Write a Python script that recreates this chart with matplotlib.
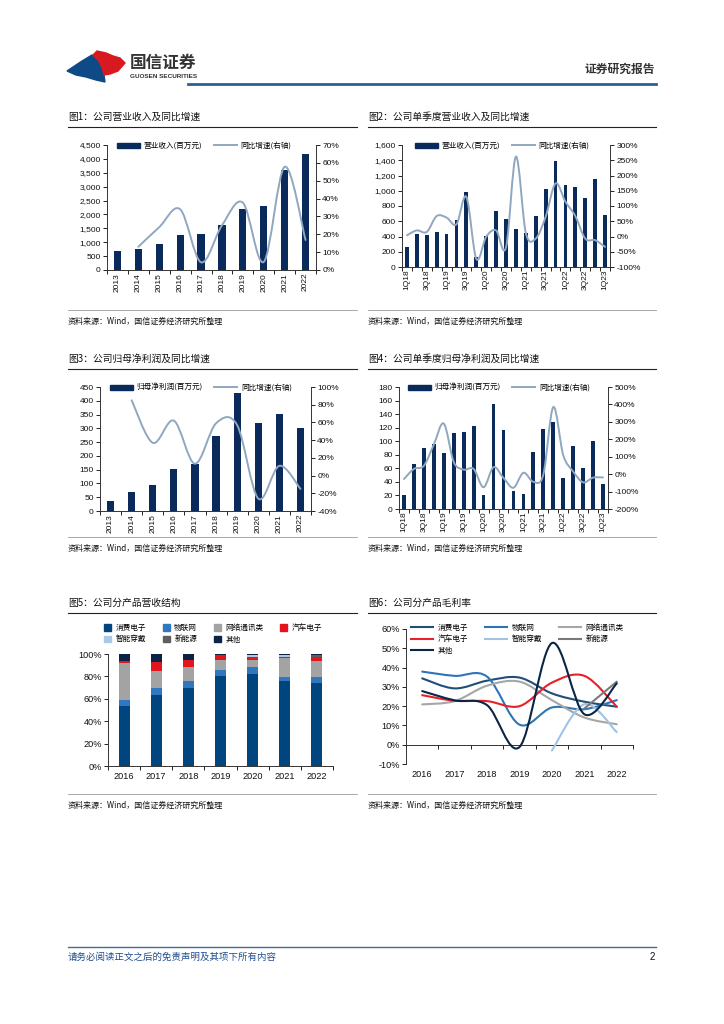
import numpy as np
import matplotlib
matplotlib.use('Agg')
import matplotlib.pyplot as plt
from matplotlib.path import Path
from matplotlib.patches import PathPatch, Rectangle, Polygon
from matplotlib.lines import Line2D
from matplotlib.ticker import FuncFormatter

plt.rcParams['font.family'] = ['Liberation Sans', 'Noto Sans CJK SC', 'DejaVu Sans']
plt.rcParams['axes.unicode_minus'] = False

# ---------------- data ----------------
years = ['2013', '2014', '2015', '2016', '2017', '2018', '2019', '2020', '2021', '2022']
revenue = [684, 756, 936, 1248, 1296, 1620, 2196, 2304, 3600, 4176]
revenue_yoy = [None, 13, 24, 34, 4.3, 25, 37.7, 4.5, 57.8, 16.8]

quarters = ['1Q18', '2Q18', '3Q18', '4Q18', '1Q19', '2Q19', '3Q19', '4Q19', '1Q20', '2Q20', '3Q20',
            '4Q20', '1Q21', '2Q21', '3Q21', '4Q21', '1Q22', '2Q22', '3Q22', '4Q22', '1Q23']
q_revenue = [263, 430, 416, 460, 438, 614, 986, 135, 403, 732, 627,
             504, 445, 666, 1017, 1390, 1074, 1052, 899, 1148, 679]
q_revenue_yoy = [4, 20, 15, 67, 62, 40, 130, -73, -1, 20, -36,
                 262, 12, -7, 64, 174, 114, 67, -7, -12, -34]

profit = [37, 68, 95, 151, 169, 272, 428, 319, 351, 301]
profit_yoy = [None, 85, 37, 62, 13.4, 59, 57, -26, 11, -15]

q_profit = [20.7, 66, 90, 96, 82, 112, 113.6, 123, 20.7, 155, 116,
            27, 22, 84, 117.6, 128, 45.7, 93, 60.5, 100, 37]
q_profit_yoy = [-28, 30, 48, 170, 290, 70, 26, 30, -75, 40, -22,
                -78, 8, -44, -3, 385, 110, 15, -47, -20, -19]

seg_years = ['2016', '2017', '2018', '2019', '2020', '2021', '2022']
segments = ['消费电子', '物联网', '网络通讯类', '汽车电子', '智能穿戴', '新能源', '其他']
share_consumer = [54, 63, 70, 80, 82, 75.5, 74.5]
share_iot = [5, 7, 5.5, 5.5, 6, 4, 5]
share_network = [33, 15, 12.5, 9.5, 7, 16.5, 14]
share_auto = [2, 8, 7, 4, 2, 1.5, 4]
share_wear = [0, 0, 0, 0, 2, 1.5, 0]
share_energy = [0, 0, 0, 0, 0, 0, 1.5]
share_other = [6, 7, 5, 1, 1, 1, 1]

gm_consumer = [34.4, 29.2, 33.2, 34.8, 26.6, 22.3, 19.7]
gm_iot = [37.9, 35.7, 35.3, 10.4, 19.3, 18.4, 23.1]
gm_network = [20.9, 22.6, 30.6, 32.7, 23.1, 14.1, 10.6]
gm_auto = [25.7, 22.8, 22.6, 20.0, 32.2, 35.7, 19.7]
gm_wear = [None, None, None, None, -3, 21, 6.5]
gm_energy = [None, None, None, None, None, 18.8, 32.7]
gm_other = [27.8, 23, 20.5, -1.2, 52.7, 15.8, 31.8]

# ---------------- style ----------------
W, H = 724, 1024
NAVY = '#0B2A5C'
LINE = '#8FA7BF'
seg_colors = ['#00457E', '#2F77BE', '#A3A3A3', '#E2141E', '#A9C9E8', '#5E5E5E', '#0A2447']
gm_colors = ['#1F4E79', '#2E75B6', '#A6A6A6', '#E8202A', '#9DC3E6', '#7A7A7A', '#0B2545']
CJK = ['Noto Sans CJK SC', 'DejaVu Sans']

fig = plt.figure(figsize=(W / 100, H / 100), dpi=100)


def box(x0, y0, x1, y1):
    return fig.add_axes([x0 / W, 1 - y1 / H, (x1 - x0) / W, (y1 - y0) / H])


def ftext(x, y, s, **kw):
    fig.text(x / W, 1 - y / H, s, **kw)


def fline(x0, x1, y, color, lw):
    fig.add_artist(Line2D([x0 / W, x1 / W], [1 - y / H, 1 - y / H], color=color, lw=lw,
                          transform=fig.transFigure))


def smooth(ax, xs, ys, **kw):
    # smoothed line like the Excel original, drawn as cubic bezier through the data points
    P = np.array([(x, y) for x, y in zip(xs, ys) if y is not None], float)
    verts = [P[0]]
    codes = [Path.MOVETO]
    for i in range(len(P) - 1):
        p0 = P[i - 1] if i > 0 else P[i]
        p3 = P[i + 2] if i + 2 < len(P) else P[i + 1]
        verts += [P[i] + (P[i + 1] - p0) / 6, P[i + 1] - (p3 - P[i]) / 6, P[i + 1]]
        codes += [Path.CURVE4] * 3
    ax.add_patch(PathPatch(Path(verts, codes), fill=False, joinstyle='round', capstyle='round', **kw))


def cat_axis(ax, labels, rotation=0, every=1, size=6):
    n = len(labels)
    ax.set_xlim(-0.5, n - 0.5)
    ax.set_xticks(np.arange(n))
    ax.set_xticklabels([l if i % every == 0 else '' for i, l in enumerate(labels)],
                       rotation=rotation, fontsize=size)
    ax.tick_params(axis='x', which='major', length=0, pad=2)
    ax.set_xticks(np.arange(n + 1) - 0.5, minor=True)
    ax.tick_params(axis='x', which='minor', length=3, direction='out', width=0.6)


def style_spines(ax, sides, size=6):
    for s in ['left', 'right', 'top', 'bottom']:
        ax.spines[s].set_visible(s in sides)
        ax.spines[s].set_linewidth(0.7)
        ax.spines[s].set_color('#333333')
    ax.tick_params(axis='y', length=3, width=0.6, labelsize=size, pad=1.5)


pct = FuncFormatter(lambda v, p: f'{v:.0f}%')
thou = FuncFormatter(lambda v, p: f'{v:,.0f}')


def bar_line_chart(rect, labels, bars, line, ylim, ystep, y2lim, y2step, bar_name, every, bw, leg_xy):
    ax = box(*rect)
    x = np.arange(len(labels))
    ax.bar(x, bars, width=bw, color=NAVY, zorder=2)
    cat_axis(ax, labels, rotation=90, every=every)
    ax.set_ylim(*ylim)
    ax.set_yticks(np.arange(ylim[0], ylim[1] + 1, ystep))
    ax.yaxis.set_major_formatter(thou)
    style_spines(ax, ['left', 'bottom'])
    ax2 = ax.twinx()
    smooth(ax2, x, line, color=LINE, lw=1.4, zorder=3)
    ax2.set_ylim(*y2lim)
    ax2.set_yticks(np.arange(y2lim[0], y2lim[1] + 1, y2step))
    ax2.yaxis.set_major_formatter(pct)
    style_spines(ax2, ['right'])
    ax2.set_xlim(ax.get_xlim())
    handles = [Rectangle((0, 0), 1, 1, color=NAVY), Line2D([], [], color=LINE, lw=1.4)]
    ax2.legend(handles, [bar_name, '同比增速(右轴)'], ncol=2, frameon=False,
               prop={'family': CJK, 'size': 5.5}, loc='center left',
               bbox_to_anchor=(leg_xy[0] / W, 1 - leg_xy[1] / H), bbox_transform=fig.transFigure,
               handlelength=3.0, handleheight=0.7, handletextpad=0.5, columnspacing=1.5,
               borderpad=0, borderaxespad=0)
    for t in ax.get_yticklabels() + ax2.get_yticklabels() + ax.get_xticklabels():
        t.set_color('#111111')
    return ax


# ---------------- header ----------------
logo = fig.add_axes([0, 0, 1, 1], zorder=-1)
logo.set_xlim(0, W)
logo.set_ylim(H, 0)
logo.axis('off')
logo.add_patch(Polygon([(67, 71), (82, 61), (92, 55), (98, 60), (101, 67), (104, 75), (105, 82),
                        (96, 80), (86, 77), (76, 75)], closed=True, color='#0E4A85'))
logo.add_patch(Polygon([(93, 55), (97, 51), (106, 53), (113, 56), (120, 58), (125, 63), (118, 71),
                        (110, 74), (104, 75), (102, 67), (98, 60)], closed=True, color='#D71920'))
ftext(130, 63, '国信证券', fontsize=12, fontweight='bold', color='#333333', family=CJK, va='center')
ftext(130, 77, 'GUOSEN SECURITIES', fontsize=4.6, fontweight='bold', color='#333333', va='center')
ftext(655, 69, '证券研究报告', fontsize=8.5, fontweight='bold', color='#333333', family=CJK,
      ha='right', va='center')
fline(188, 656, 84, '#2D5F91', 2)

# ---------------- titles / sources ----------------
titles = [(68, 117, '图1：公司营业收入及同比增速'), (368, 117, '图2：公司单季度营业收入及同比增速'),
          (68, 359, '图3：公司归母净利润及同比增速'), (368, 359, '图4：公司单季度归母净利润及同比增速'),
          (68, 603, '图5：公司分产品营收结构'), (368, 603, '图6：公司分产品毛利率')]
for x0, y0, s in titles:
    ftext(x0, y0, s, fontsize=7, family=CJK, color='#111111', va='center')
    fline(x0, x0 + 289 if x0 < 300 else 656, y0 + 10, '#222222', 0.8)
for y0 in [321, 548, 805]:
    for x0, x1 in [(68, 357), (368, 656)]:
        fline(x0, x1, y0 - 11, '#9A9A9A', 0.6)
        ftext(x0, y0, '资料来源：Wind，国信证券经济研究所整理', fontsize=5.8, family=CJK,
              color='#111111', va='center')

# ---------------- charts 1-4 ----------------
bar_line_chart((107, 145, 316, 270), years, revenue, revenue_yoy, (0, 4500), 500, (0, 70), 10,
               '营业收入(百万元)', 1, 0.34, (117, 146))
bar_line_chart((402, 145, 610, 267), quarters, q_revenue, q_revenue_yoy, (0, 1600), 200, (-100, 300), 50,
               '营业收入(百万元)', 2, 0.38, (415, 146))
bar_line_chart((100, 387, 311, 511), years, profit, profit_yoy, (0, 450), 50, (-40, 100), 20,
               '归母净利润(百万元)', 1, 0.34, (110, 388))
bar_line_chart((399, 387, 608, 509), quarters, q_profit, q_profit_yoy, (0, 180), 20, (-200, 500), 100,
               '归母净利润(百万元)', 2, 0.38, (408, 388))

# ---------------- chart 5 ----------------
ax5 = box(108, 654, 333, 766)
x = np.arange(len(seg_years))
shares = [share_consumer, share_iot, share_network, share_auto, share_wear, share_energy, share_other]
bottom = np.zeros(len(seg_years))
for vals, c in zip(shares, seg_colors):
    ax5.bar(x, vals, bottom=bottom, width=0.34, color=c, zorder=2)
    bottom += np.array(vals)
cat_axis(ax5, seg_years, size=6.6)
ax5.tick_params(axis='x', which='major', pad=4)
ax5.set_ylim(0, 100)
ax5.set_yticks(np.arange(0, 101, 20))
ax5.yaxis.set_major_formatter(pct)
style_spines(ax5, ['left', 'bottom'], size=6.6)
order = [0, 4, 1, 5, 2, 6, 3]
h5 = [Rectangle((0, 0), 1, 1, color=seg_colors[i]) for i in order]
ax5.legend(h5, [segments[i] for i in order], ncol=4, frameon=False, prop={'family': CJK, 'size': 5.5},
           loc='upper left', bbox_to_anchor=(104 / W, 1 - 624 / H), bbox_transform=fig.transFigure,
           handlelength=0.9, handleheight=0.9, handletextpad=0.6, columnspacing=2.2,
           labelspacing=0.45, borderpad=0, borderaxespad=0)

# ---------------- chart 6 ----------------
ax6 = box(406, 629, 633, 764)
gms = [gm_consumer, gm_iot, gm_network, gm_auto, gm_wear, gm_energy, gm_other]
for vals, c in zip(gms, gm_colors):
    smooth(ax6, x, vals, color=c, lw=1.5, zorder=3)
ax6.set_xlim(-0.5, len(seg_years) - 0.5)
ax6.set_ylim(-10, 60)
ax6.set_yticks(np.arange(-10, 61, 10))
ax6.yaxis.set_major_formatter(pct)
style_spines(ax6, ['left', 'bottom'], size=6.6)
ax6.spines['bottom'].set_position(('data', 0))
ax6.set_xticks(np.arange(len(seg_years) + 1) - 0.5)
ax6.set_xticklabels([])
ax6.tick_params(axis='x', length=3, width=0.6, direction='out')
for i, yr in enumerate(seg_years):
    ax6.text(i, -0.08, yr, transform=ax6.get_xaxis_transform(), ha='center', va='center',
             fontsize=6.6, color='#111111')
order6 = [0, 3, 6, 1, 4, 2, 5]
h6 = [Line2D([], [], color=gm_colors[i], lw=1.5) for i in order6]
ax6.legend(h6, [segments[i] for i in order6], ncol=3, frameon=False, prop={'family': CJK, 'size': 5.5},
           loc='upper left', bbox_to_anchor=(411 / W, 1 - 624 / H), bbox_transform=fig.transFigure,
           handlelength=2.9, handletextpad=0.6, columnspacing=2.2, labelspacing=0.45,
           borderpad=0, borderaxespad=0)
for t in ax5.get_yticklabels() + ax5.get_xticklabels() + ax6.get_yticklabels():
    t.set_color('#111111')

# ---------------- footer ----------------
fline(68, 656, 947, '#3E6E9E', 1)
ftext(68, 957, '请务必阅读正文之后的免责声明及其项下所有内容', fontsize=6.8, family=CJK, style='italic',
      color='#1F4E8C', va='center')
ftext(655, 957, '2', fontsize=7, ha='right', va='center', color='#111111')

fig.savefig('out.png', dpi=100)
